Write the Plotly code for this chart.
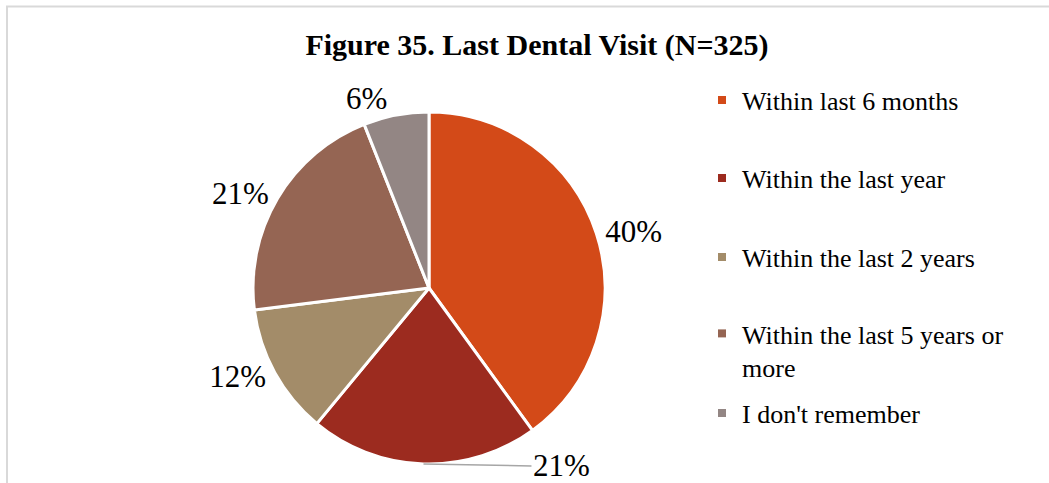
import math
import plotly.graph_objects as go

categories = ["Within last 6 months", "Within the last year", "Within the last 2 years",
              "Within the last 5 years or more", "I don't remember"]
legend_labels = ["Within last 6 months", "Within the last year", "Within the last 2 years",
                 "Within the last 5 years or<br>more", "I don't remember"]
percents = [40, 21, 12, 21, 6]
colors = ["#D34A18", "#9C2B1F", "#A38C69", "#956553", "#938684"]

W, H = 1049, 483
cx, cy, R = 429, 288, 176  # pie center / radius in pixels

FONT = "Liberation Serif, Times New Roman, serif"

fig = go.Figure()

# textposition: outside for all but the bottom slice (handled with leader line annotation)
textpos = ["outside", "none", "outside", "outside", "outside"]
fig.add_trace(go.Pie(
    labels=categories, values=percents, sort=False, direction="clockwise", rotation=0,
    marker=dict(colors=colors, line=dict(color="white", width=3)),
    texttemplate="%{value}%", textposition=textpos,
    outsidetextfont=dict(family=FONT, size=31, color="#000000"),
    showlegend=False, hoverinfo="label+percent",
    domain=dict(x=[(cx - R) / W, (cx + R) / W], y=[1 - (cy + R) / H, 1 - (cy - R) / H]),
))

# leader-line label for the bottom slice, anchored at its mid-angle on the rim
tot = sum(percents)
cum = sum(percents[:1])
mid = (cum + percents[1] / 2) / tot * 2 * math.pi
px = cx + R * math.sin(mid)
py = cy - R * math.cos(mid)
fig.add_annotation(x=px / W, y=1 - py / H, xref="paper", yref="paper",
                   text=f"{percents[1]}%", showarrow=True, arrowhead=0, arrowwidth=1.5,
                   arrowcolor="#A6A6A6", ax=108, ay=2, xanchor="left",
                   font=dict(family=FONT, size=31, color="#000000"))

# legend entries (one legend each so that spacing matches)
legend_y = [100, 178, 257, 336, 413]
for i, (lab, col) in enumerate(zip(legend_labels, colors)):
    lname = "legend" if i == 0 else f"legend{i+1}"
    fig.add_trace(go.Scatter(x=[None], y=[None], mode="markers", name=lab,
                             marker=dict(symbol="square", size=8, color=col),
                             showlegend=True, legend=lname))
    is_multi = "<br>" in lab
    fig.update_layout({lname: dict(
        x=(742 - 40) / W, xanchor="left",
        y=1 - (legend_y[i] - (26 if is_multi else 0)) / H, yanchor="top" if is_multi else "middle",
        valign="top" if is_multi else "middle",
        font=dict(family=FONT, size=26, color="#000000"),
        bgcolor="rgba(0,0,0,0)", borderwidth=0,
    )})

# chart-area border (top & left edges visible in the crop)
fig.add_shape(type="rect", xref="paper", yref="paper",
              x0=7 / W, y0=-0.2, x1=1.2, y1=1 - 6.5 / H,
              line=dict(color="#D9D9D9", width=2), fillcolor="rgba(0,0,0,0)", layer="below")

fig.update_layout(
    width=W, height=H,
    margin=dict(l=0, r=0, t=0, b=0),
    paper_bgcolor="white", plot_bgcolor="white",
    title=dict(text="<b>Figure 35. Last Dental Visit (N=325)</b>", x=537 / W, xanchor="center",
               y=1 - 44 / H, yanchor="middle",
               font=dict(family=FONT, size=30, color="#000000")),
    xaxis=dict(visible=False), yaxis=dict(visible=False),
)

fig.write_html("out.html", config={"displayModeBar": False},
               post_script="document.body.style.margin='0';document.body.style.overflow='hidden';")
